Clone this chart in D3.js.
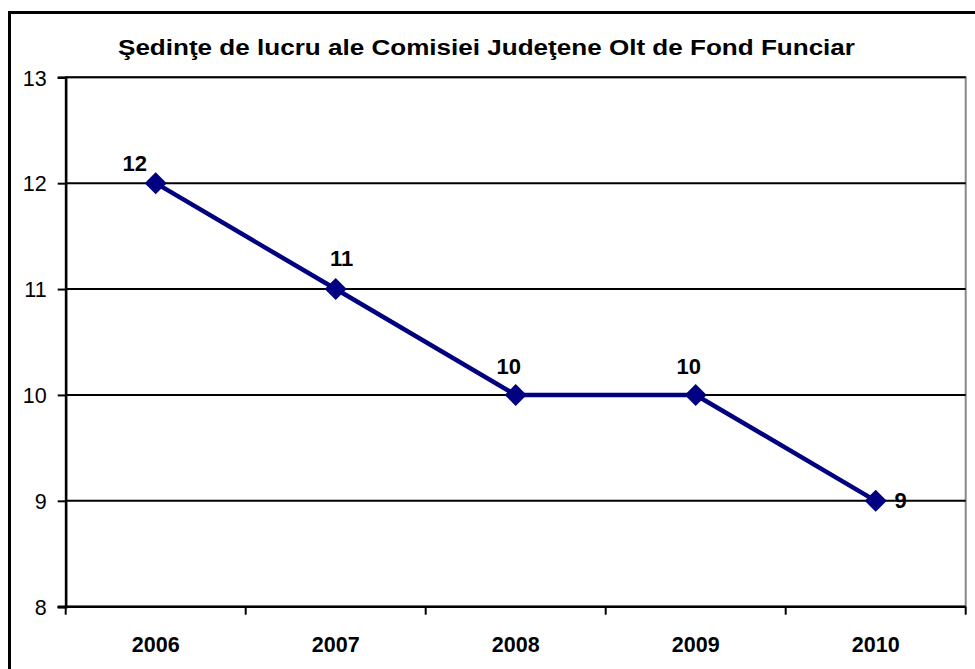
<!DOCTYPE html>
<html><head><meta charset="utf-8">
<script src="https://cdn.jsdelivr.net/npm/d3@7"></script>
<style>html,body{margin:0;padding:0;background:#fff;overflow:hidden}svg{display:block;font-family:"Liberation Sans",Arial,sans-serif}</style>
</head><body><svg id="c" width="975" height="669"></svg>
<script>
const title = "Şedinţe de lucru ale Comisiei Judeţene Olt de Fond Funciar";
const years = ["2006","2007","2008","2009","2010"];
const sessions = [12, 11, 10, 10, 9];
const yTicks = [8, 9, 10, 11, 12, 13];
// label offsets relative to point (dx, baseline dy)
const labelOffsets = [[-21,-12],[6,-23],[-7,-21],[-7,-21],[25,7]];

const svg = d3.select("#c");
const m = {left: 65.7, right: 965.7, top: 77.3, bottom: 606.7};
const x = d3.scaleBand().domain(years).range([m.left, m.right]);
const y = d3.scaleLinear().domain([8, 13]).range([m.bottom, m.top]);

// outer border
svg.append("rect").attr("x", 9.5).attr("y", 12.5).attr("width", 1000).attr("height", 700)
  .attr("fill", "none").attr("stroke", "#000").attr("stroke-width", 3);

// title
svg.append("text").attr("x", 486.5).attr("y", 55).attr("text-anchor", "middle")
  .attr("font-weight", "bold").attr("font-size", 22)
  .attr("textLength", 737).attr("lengthAdjust", "spacingAndGlyphs").text(title);

// plot area border (gray)
svg.append("rect").attr("x", m.left).attr("y", m.top).attr("width", m.right - m.left).attr("height", m.bottom - m.top)
  .attr("fill", "none").attr("stroke", "#888").attr("stroke-width", 2);

// gridlines
svg.append("g").selectAll("line").data(yTicks.filter(d => d > 8)).join("line")
  .attr("x1", m.left).attr("x2", m.right).attr("y1", d => y(d)).attr("y2", d => y(d))
  .attr("stroke", "#000").attr("stroke-width", 2);

// y axis
const ya = svg.append("g").attr("transform", `translate(${m.left},0)`)
  .call(d3.axisLeft(y).tickValues(yTicks).tickSize(8).tickPadding(11).tickFormat(d3.format("d")));
ya.select(".domain").attr("stroke", "#000").attr("stroke-width", 2.5);
ya.selectAll(".tick line").attr("stroke", "#000").attr("stroke-width", 2);
ya.selectAll(".tick text").attr("font-size", 21.5).attr("fill", "#000").attr("font-family", "Liberation Sans, Arial, sans-serif").attr("dy", "0.36em");

// x axis
const xa = svg.append("g").attr("transform", `translate(0,${m.bottom})`)
  .call(d3.axisBottom(x).tickSize(0).tickPadding(0));
xa.select(".domain").remove();
xa.append("line").attr("x1", m.left - 8).attr("x2", m.right).attr("y1", 0).attr("y2", 0)
  .attr("stroke", "#000").attr("stroke-width", 2.5);
const bounds = years.map(d => x(d)).concat([m.right]);
xa.selectAll(".bt").data(bounds).join("line").attr("class", "bt")
  .attr("x1", d => d).attr("x2", d => d).attr("y1", 0).attr("y2", 8)
  .attr("stroke", "#000").attr("stroke-width", 2);
xa.selectAll(".tick text").attr("y", 45).attr("dy", 0).attr("font-size", 21.5).attr("font-weight", "bold")
  .attr("fill", "#000").attr("font-family", "Liberation Sans, Arial, sans-serif");

// line
const cx = d => x(d) + x.bandwidth() / 2;
const pts = years.map((d, i) => [cx(d), y(sessions[i])]);
svg.append("path").datum(pts).attr("d", d3.line()).attr("fill", "none")
  .attr("stroke", "#000080").attr("stroke-width", 4.5).attr("stroke-linejoin", "round");

// markers
svg.append("g").selectAll("path").data(pts).join("path")
  .attr("transform", d => `translate(${d[0]},${d[1]})`)
  .attr("d", "M0,-11L11,0L0,11L-11,0Z").attr("fill", "#000080");

// data labels
svg.append("g").selectAll("text").data(sessions).join("text")
  .attr("x", (d, i) => pts[i][0] + labelOffsets[i][0])
  .attr("y", (d, i) => pts[i][1] + labelOffsets[i][1])
  .attr("text-anchor", "middle").attr("font-weight", "bold").attr("font-size", 22)
  .text(d => d);
</script></body></html>
